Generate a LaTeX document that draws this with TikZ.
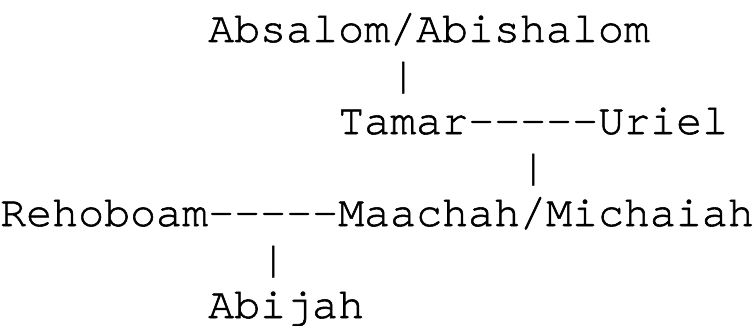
\documentclass[tikz,border=0pt]{standalone}
\usepackage{fontspec}
\setmonofont{TeX Gyre Cursor}[FakeBold=1.3]
\begin{document}
\begin{tikzpicture}[x=26pt,y=-46pt,
  txt/.style={anchor=base west,inner sep=0pt,font=\ttfamily\fontsize{43.3}{46}\selectfont}]
\useasboundingbox (0,0) rectangle (754pt,-326pt);

\begin{scope}[yshift=-42pt]
% names, placed by column and line
\node[txt] (absalom)  at (8,0)  {Absalom/Abishalom};
\node[txt] (tamar)    at (13,2) {Tamar};
\node[txt] (uriel)    at (23,2) {Uriel};
\node[txt] (rehoboam) at (0,4)  {Rehoboam};
\node[txt] (maachah)  at (13,4) {Maachah/Michaiah};
\node[txt] (abijah)   at (8,6)  {Abijah};

% links, typed as characters
\node[txt] (pipeA)  at (15,1) {|};
\node[txt] (dashTU) at (18,2) {-----};
\node[txt] (pipeU)  at (20,3) {|};
\node[txt] (dashRM) at (8,4)  {-----};
\node[txt] (pipeR)  at (10,5) {|};
\end{scope}
\end{tikzpicture}
\end{document}
